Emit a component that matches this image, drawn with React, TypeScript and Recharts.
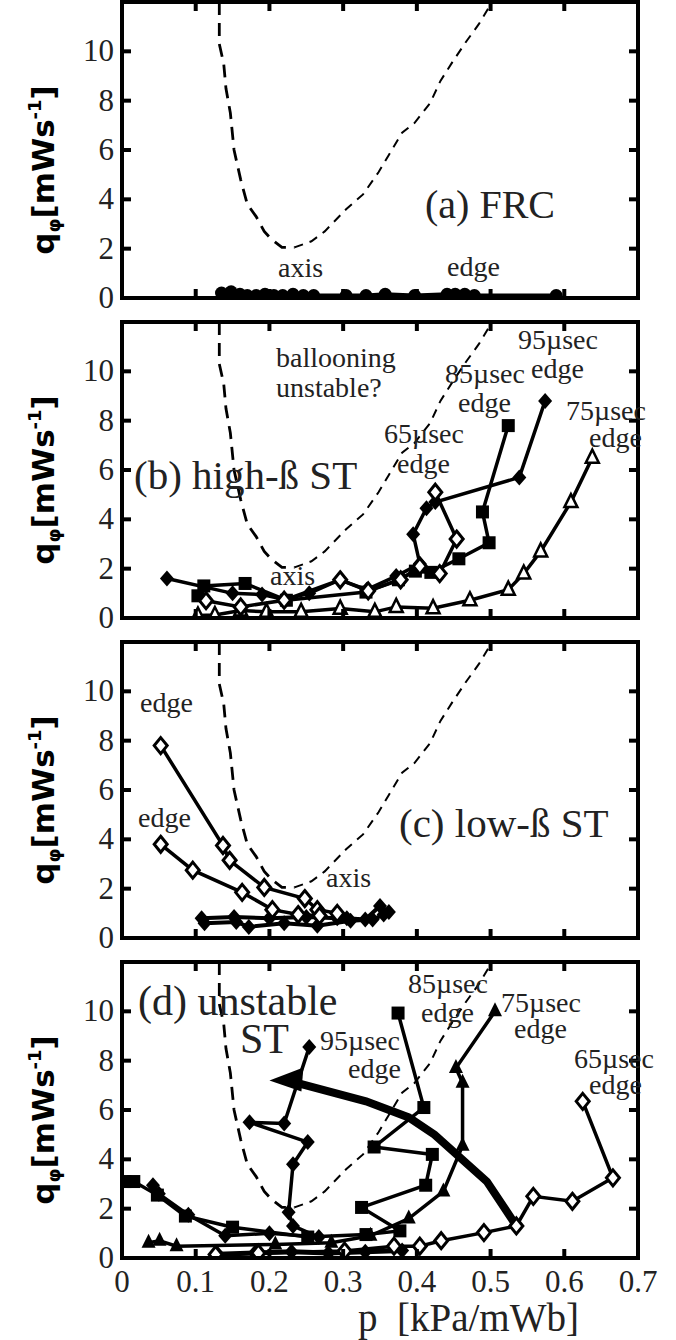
import React from 'react';
import { LineChart, Line, XAxis, YAxis } from 'recharts';

// ---------- axis ticks ----------
const P_TICKS = [0, 0.1, 0.2, 0.3, 0.4, 0.5, 0.6, 0.7];
const P_TICK_LABELS = ['0', '0.1', '0.2', '0.3', '0.4', '0.5', '0.6', '0.7'];
const Q_TICKS = [0, 2, 4, 6, 8, 10];
const Q_TICK_LABELS = ['0', '2', '4', '6', '8', '10'];

// ---------- stability boundary (dashed, same in all panels) ----------
const BOUND_L_P = [0.132, 0.132, 0.138, 0.141, 0.147, 0.152, 0.161, 0.170, 0.182, 0.193, 0.202, 0.217, 0.234];
const BOUND_L_Q = [12.0, 10.3, 9.5, 8.5, 7.5, 6.0, 4.8, 3.8, 3.3, 2.7, 2.4, 2.05, 2.05];
const BOUND_R_P = [0.234, 0.257, 0.275, 0.304, 0.327, 0.348, 0.362, 0.380, 0.397, 0.418, 0.432, 0.449, 0.467, 0.484, 0.498];
const BOUND_R_Q = [2.05, 2.3, 2.7, 3.6, 4.2, 5.1, 5.8, 6.7, 7.1, 7.9, 8.8, 9.6, 10.4, 11.1, 11.8];

// ---------- (a) FRC ----------
const FRC_P = [0.135, 0.148, 0.160, 0.170, 0.182, 0.194, 0.206, 0.218, 0.232, 0.246, 0.260, 0.304, 0.331, 0.357, 0.397, 0.441, 0.452, 0.465, 0.478, 0.589];
const FRC_Q = [0.2, 0.25, 0.15, 0.1, 0.1, 0.15, 0.1, 0.1, 0.15, 0.1, 0.1, 0.1, 0.1, 0.15, 0.1, 0.15, 0.15, 0.15, 0.1, 0.1];

// ---------- (b) high-beta ST ----------
const B65_P = [0.425, 0.454, 0.431, 0.404, 0.378, 0.334, 0.296, 0.220, 0.161, 0.114];
const B65_Q = [5.1, 3.2, 1.8, 2.1, 1.55, 1.1, 1.55, 0.72, 0.45, 0.7];
const B75_P = [0.638, 0.609, 0.568, 0.545, 0.524, 0.472, 0.422, 0.372, 0.343, 0.296, 0.243, 0.196, 0.161, 0.126, 0.103];
const B75_Q = [6.5, 4.7, 2.7, 1.8, 1.15, 0.72, 0.4, 0.45, 0.25, 0.38, 0.25, 0.25, 0.3, 0.12, 0.1];
const B85_P = [0.524, 0.489, 0.498, 0.457, 0.419, 0.398, 0.375, 0.331, 0.223, 0.167, 0.111, 0.103];
const B85_Q = [7.8, 4.3, 3.05, 2.4, 1.85, 1.9, 1.55, 1.05, 0.72, 1.4, 1.3, 0.9];
const B95_P = [0.574, 0.539, 0.425, 0.413, 0.395, 0.404, 0.372, 0.332, 0.296, 0.254, 0.220, 0.190, 0.150, 0.061];
const B95_Q = [8.8, 5.7, 4.7, 4.45, 3.4, 2.2, 1.7, 1.15, 1.55, 1.0, 0.75, 0.95, 1.0, 1.6];

// ---------- (c) low-beta ST ----------
const CUP_P = [0.0525, 0.137, 0.146, 0.193, 0.248, 0.265, 0.292];
const CUP_Q = [7.8, 3.75, 3.15, 2.05, 1.6, 1.15, 1.0];
const CLO_P = [0.0525, 0.096, 0.163, 0.204, 0.239, 0.268];
const CLO_Q = [3.8, 2.75, 1.85, 1.15, 0.95, 0.9];
const CB1_P = [0.108, 0.152, 0.200, 0.250, 0.292, 0.305, 0.330, 0.350, 0.362];
const CB1_Q = [0.8, 0.85, 0.8, 0.85, 0.8, 0.8, 0.75, 1.3, 1.05];
const CB2_P = [0.112, 0.155, 0.172, 0.220, 0.265, 0.310, 0.340, 0.355];
const CB2_Q = [0.6, 0.65, 0.45, 0.6, 0.5, 0.7, 0.75, 0.95];

// ---------- (d) unstable ST ----------
const D65_P = [0.625, 0.666, 0.611, 0.558, 0.535, 0.491, 0.433, 0.404, 0.369, 0.302, 0.185, 0.127];
const D65_Q = [6.35, 3.25, 2.3, 2.5, 1.3, 1.03, 0.7, 0.48, 0.48, 0.28, 0.2, 0.14];
const D75_P = [0.506, 0.453, 0.462, 0.462, 0.436, 0.389, 0.337, 0.284, 0.208, 0.074, 0.051, 0.036];
const D75_Q = [10.0, 7.7, 7.1, 4.55, 2.7, 1.6, 0.9, 0.62, 0.55, 0.48, 0.7, 0.62];
const D85_P = [0.3745, 0.4095, 0.342, 0.421, 0.412, 0.325, 0.377, 0.331, 0.252, 0.150, 0.086, 0.048, 0.016, 0.004];
const D85_Q = [9.93, 6.1, 4.5, 4.2, 2.95, 2.05, 1.1, 0.95, 0.85, 1.25, 1.7, 2.55, 3.1, 3.1];
const D95_P = [0.254, 0.220, 0.173, 0.252, 0.232, 0.226, 0.232, 0.267, 0.200, 0.140, 0.090, 0.050, 0.042];
const D95_Q = [8.55, 5.45, 5.5, 4.7, 3.8, 1.85, 1.3, 0.85, 1.0, 0.9, 1.75, 2.6, 2.95];
const DBULK_P = [0.130, 0.180, 0.230, 0.280, 0.330, 0.380];
const DBULK_Q = [0.15, 0.2, 0.25, 0.2, 0.25, 0.3];
const ARROW_P = [0.535, 0.495, 0.424, 0.389, 0.331, 0.237];
const ARROW_Q = [1.3, 3.1, 5.0, 5.7, 6.35, 7.1];
const ARROW_HEAD_P = [0.2];
const ARROW_HEAD_Q = [7.2];

// ---------- text ----------
type Note = { t: string; x: number; y: number; s: number };
const NOTES_A: Note[] = [
  { t: '(a) FRC', x: 425, y: 218, s: 40 },
  { t: 'axis', x: 278, y: 277, s: 28 },
  { t: 'edge', x: 447, y: 276, s: 28 },
];
const NOTES_B: Note[] = [
  { t: 'ballooning', x: 276, y: 367, s: 28 },
  { t: 'unstable?', x: 276, y: 397, s: 28 },
  { t: '95µsec', x: 518, y: 349, s: 28 },
  { t: 'edge', x: 531, y: 378, s: 28 },
  { t: '85µsec', x: 445, y: 383, s: 28 },
  { t: 'edge', x: 458, y: 412, s: 28 },
  { t: '75µsec', x: 566, y: 420, s: 28 },
  { t: 'edge', x: 589, y: 447, s: 28 },
  { t: '65µsec', x: 384, y: 443, s: 28 },
  { t: 'edge', x: 397, y: 473, s: 28 },
  { t: '(b) high-ß ST', x: 134, y: 489, s: 41 },
  { t: 'axis', x: 270, y: 585, s: 28 },
];
const NOTES_C: Note[] = [
  { t: 'edge', x: 140, y: 712, s: 28 },
  { t: 'edge', x: 138, y: 827, s: 28 },
  { t: 'axis', x: 326, y: 887, s: 28 },
  { t: '(c) low-ß ST', x: 399, y: 837, s: 41 },
];
const NOTES_D: Note[] = [
  { t: '(d) unstable', x: 138, y: 1015, s: 42 },
  { t: 'ST', x: 240, y: 1053, s: 42 },
  { t: '95µsec', x: 320, y: 1050, s: 28 },
  { t: 'edge', x: 348, y: 1078, s: 28 },
  { t: '85µsec', x: 408, y: 993, s: 28 },
  { t: 'edge', x: 421, y: 1022, s: 28 },
  { t: '75µsec', x: 501, y: 1012, s: 28 },
  { t: 'edge', x: 514, y: 1038, s: 28 },
  { t: '65µsec', x: 574, y: 1068, s: 28 },
  { t: 'edge', x: 589, y: 1094, s: 28 },
  { t: 'p  [kPa/mWb]', x: 358, y: 1331, s: 39 },
];

type Pt = { p: number; q: number };
const zip = (ps: number[], qs: number[]): Pt[] => ps.map((p, i) => ({ p, q: qs[i] }));

const W = 676;
const PL = 122;
const PR = 638;
const PT = 2;
const PB = 298;
const SERIF = '"Liberation Serif", "Times New Roman", Times, serif';

type Series = { data: Pt[]; marker: string; width: number; dash?: string };

function marker(kind: string, cx: number, cy: number, key: string) {
  if (cx == null || cy == null || isNaN(cx) || isNaN(cy)) return <g key={key} />;
  switch (kind) {
    case 'circle':
      return <circle key={key} cx={cx} cy={cy} r={6.5} fill="#000" />;
    case 'square':
      return <rect key={key} x={cx - 6.5} y={cy - 6.5} width={13} height={13} fill="#000" />;
    case 'diamond':
      return <polygon key={key} points={`${cx},${cy - 8} ${cx + 7},${cy} ${cx},${cy + 8} ${cx - 7},${cy}`} fill="#000" />;
    case 'diamondOpen':
      return <polygon key={key} points={`${cx},${cy - 8} ${cx + 6.5},${cy} ${cx},${cy + 8} ${cx - 6.5},${cy}`} fill="#fff" stroke="#000" strokeWidth={3} />;
    case 'tri':
      return <polygon key={key} points={`${cx},${cy - 9} ${cx + 7},${cy + 5} ${cx - 7},${cy + 5}`} fill="#000" />;
    case 'triOpen':
      return <polygon key={key} points={`${cx},${cy - 8} ${cx + 6.5},${cy + 5} ${cx - 6.5},${cy + 5}`} fill="#fff" stroke="#000" strokeWidth={2.5} />;
    case 'arrowHead':
      return <polygon key={key} points={`${cx},${cy} ${cx + 34},${cy - 13} ${cx + 32},${cy + 11}`} fill="#000" />;
    default:
      return <g key={key} />;
  }
}

const XTick = (props: any) => {
  const { x, payload, showLabel } = props;
  const idx = P_TICKS.indexOf(payload.value);
  return (
    <g>
      <line x1={x} x2={x} y1={PB} y2={PB - 9} stroke="#000" strokeWidth={4} />
      <line x1={x} x2={x} y1={PT} y2={PT + 9} stroke="#000" strokeWidth={4} />
      {showLabel ? (
        <text x={x} y={PB + 34} textAnchor="middle" fontFamily={SERIF} fontSize={31} fill="#222">
          {P_TICK_LABELS[idx]}
        </text>
      ) : null}
    </g>
  );
};

const YTick = (props: any) => {
  const { y, payload } = props;
  const idx = Q_TICKS.indexOf(payload.value);
  return (
    <g>
      <line x1={PL} x2={PL + 9} y1={y} y2={y} stroke="#000" strokeWidth={4} />
      <line x1={PR} x2={PR - 9} y1={y} y2={y} stroke="#000" strokeWidth={4} />
      <text x={PL - 8} y={y + 10} textAnchor="end" fontFamily={SERIF} fontSize={31} fill="#222">
        {Q_TICK_LABELS[idx]}
      </text>
    </g>
  );
};

const boundaryL: Series = { data: zip(BOUND_L_P, BOUND_L_Q), marker: 'none', width: 2.8, dash: '13 8' };
const boundaryR: Series = { data: zip(BOUND_R_P, BOUND_R_Q), marker: 'none', width: 2, dash: '9 7' };

function Panel(props: { top: number; height: number; series: Series[]; notes: Note[]; showX: boolean; labelY: number }) {
  const { top, height, series, notes, showX, labelY } = props;
  return (
    <div style={{ position: 'absolute', left: 0, top, width: W, height }}>
      <LineChart width={W} height={height} margin={{ top: PT, right: W - PR, bottom: 0, left: 0 }}>
        <XAxis
          type="number"
          dataKey="p"
          domain={[0, 0.7]}
          ticks={P_TICKS}
          interval={0}
          allowDataOverflow
          axisLine={false}
          tickLine={false}
          height={height - PB}
          tick={(tp: any) => <XTick {...tp} showLabel={showX} />}
        />
        <YAxis
          type="number"
          dataKey="q"
          domain={[0, 12]}
          ticks={Q_TICKS}
          interval={0}
          allowDataOverflow
          axisLine={false}
          tickLine={false}
          width={PL}
          tick={(tp: any) => <YTick {...tp} />}
        />
        {series.map((s, i) => (
          <Line
            key={i}
            data={s.data}
            dataKey="q"
            type="linear"
            stroke="#000"
            strokeWidth={s.width}
            strokeDasharray={s.dash}
            dot={s.marker === 'none' ? false : (dp: any) => marker(s.marker, dp.cx, dp.cy, `m${i}-${dp.index}`)}
            activeDot={false}
            isAnimationActive={false}
            legendType="none"
          />
        ))}
      </LineChart>
      <svg width={W} height={height} style={{ position: 'absolute', left: 0, top: 0, pointerEvents: 'none' }}>
        <rect x={PL} y={PT} width={PR - PL} height={PB - PT} fill="none" stroke="#000" strokeWidth={4} />
        <text
          transform={`translate(54, ${labelY}) rotate(-90)`}
          textAnchor="middle"
          fontFamily='"DejaVu Sans", sans-serif'
          fontWeight="bold"
          fontSize={31}
          fill="#000"
        >
          q<tspan fontSize={18} dy={6}>φ</tspan>
          <tspan dy={-6}>[mWs</tspan>
          <tspan fontSize={18} dy={-13}>-1</tspan>
          <tspan dy={13}>]</tspan>
        </text>
        {notes.map((n, i) => (
          <text key={i} x={n.x} y={n.y - top} fontFamily={SERIF} fontSize={n.s} fill="#222" style={{ whiteSpace: 'pre' }}>
            {n.t}
          </text>
        ))}
      </svg>
    </div>
  );
}

export default function App() {
  const seriesA: Series[] = [boundaryL, boundaryR, { data: zip(FRC_P, FRC_Q), marker: 'circle', width: 4 }];
  const seriesB: Series[] = [
    boundaryL,
    boundaryR,
    { data: zip(B75_P, B75_Q), marker: 'triOpen', width: 3.5 },
    { data: zip(B85_P, B85_Q), marker: 'square', width: 3.5 },
    { data: zip(B95_P, B95_Q), marker: 'diamond', width: 3.5 },
    { data: zip(B65_P, B65_Q), marker: 'diamondOpen', width: 3.5 },
  ];
  const seriesC: Series[] = [
    boundaryL,
    boundaryR,
    { data: zip(CB1_P, CB1_Q), marker: 'diamond', width: 4 },
    { data: zip(CB2_P, CB2_Q), marker: 'diamond', width: 4 },
    { data: zip(CUP_P, CUP_Q), marker: 'diamondOpen', width: 3.5 },
    { data: zip(CLO_P, CLO_Q), marker: 'diamondOpen', width: 3.5 },
  ];
  const seriesD: Series[] = [
    boundaryL,
    boundaryR,
    { data: zip(DBULK_P, DBULK_Q), marker: 'diamond', width: 5 },
    { data: zip(D65_P, D65_Q), marker: 'diamondOpen', width: 3.5 },
    { data: zip(D75_P, D75_Q), marker: 'tri', width: 3.5 },
    { data: zip(D85_P, D85_Q), marker: 'square', width: 3.5 },
    { data: zip(D95_P, D95_Q), marker: 'diamond', width: 3.5 },
    { data: zip(ARROW_P, ARROW_Q), marker: 'none', width: 8 },
    { data: zip(ARROW_HEAD_P, ARROW_HEAD_Q), marker: 'arrowHead', width: 0 },
  ];
  return (
    <div style={{ position: 'absolute', left: 0, top: 0, width: W, height: 1340, background: '#fff' }}>
      <Panel top={0} height={320} series={seriesA} notes={NOTES_A} showX={false} labelY={170} />
      <Panel top={320} height={320} series={seriesB} notes={NOTES_B} showX={false} labelY={160} />
      <Panel top={640} height={320} series={seriesC} notes={NOTES_C} showX={false} labelY={160} />
      <Panel top={960} height={380} series={seriesD} notes={NOTES_D} showX={true} labelY={160} />
    </div>
  );
}
